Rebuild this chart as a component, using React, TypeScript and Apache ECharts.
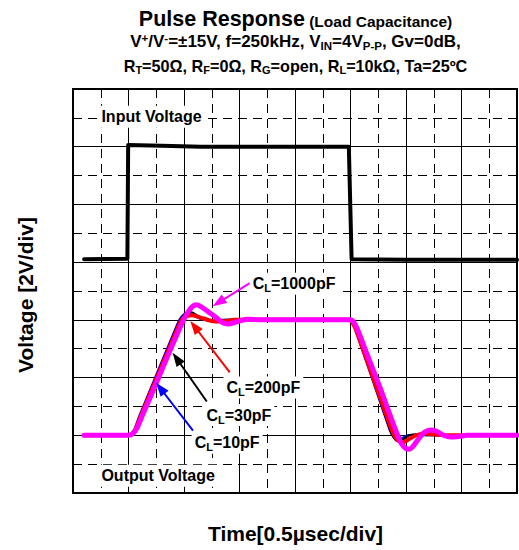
import React, { useEffect, useRef } from "react";
import * as echarts from "echarts";

// Time axis in µs (0.5 µs/div), voltage axis in V (2 V/div)
const timeMin = 0;
const timeMax = 4;
const timeStep = 0.5;
const voltMin = 0;
const voltMax = 14;
const voltStep = 2;

const titleMain = "Pulse Response";
const titleSub = " (Load Capacitance)";
const xTitle = "Time[0.5µsec/div]";
const yTitle = "Voltage [2V/div]";

const inputVoltage: [number, number][] = [
  [0.1, 8.1], [0.49, 8.12], [0.497, 12.06], [0.8, 12.03], [1.15, 12.0],
  [2.485, 12.0], [2.51, 8.1], [3.0, 8.08], [4.0, 8.08],
];

const outCL10: [number, number][] = [
  [0.1, 2.0], [0.5, 2.0], [0.53, 2.06], [0.555, 2.22], [0.59, 2.6], [0.94, 5.86],
  [0.975, 6.1], [1.015, 6.2], [1.055, 6.2], [1.11, 6.1], [1.175, 6.0], [1.25, 5.98],
  [1.35, 6.0], [2.5, 6.0], [2.515, 5.9], [2.54, 5.7], [2.85, 2.2], [2.885, 1.94],
  [2.92, 1.84], [2.955, 1.88], [3.015, 2.0], [3.1, 2.02], [3.2, 2.0], [4.0, 2.0],
];

const outCL30: [number, number][] = [
  [0.1, 2.0], [0.5, 2.0], [0.53, 2.06], [0.56, 2.22], [0.595, 2.6], [0.945, 5.84],
  [0.98, 6.1], [1.02, 6.24], [1.065, 6.26], [1.125, 6.14], [1.2, 6.0], [1.275, 5.96],
  [1.375, 6.0], [2.5, 6.0], [2.515, 5.9], [2.545, 5.7], [2.855, 2.2], [2.89, 1.92],
  [2.925, 1.8], [2.965, 1.84], [3.03, 2.0], [3.1, 2.04], [3.2, 2.0], [4.0, 2.0],
];

const outCL200: [number, number][] = [
  [0.1, 2.0], [0.5, 2.0], [0.533, 2.06], [0.563, 2.22], [0.603, 2.6], [0.953, 5.8],
  [0.988, 6.04], [1.028, 6.14], [1.075, 6.16], [1.15, 6.08], [1.25, 5.96], [1.35, 5.94],
  [1.45, 6.0], [2.5, 6.0], [2.515, 5.92], [2.545, 5.7], [2.86, 2.3], [2.9, 1.96],
  [2.935, 1.8], [2.975, 1.76], [3.025, 1.86], [3.09, 2.0], [3.175, 2.06], [3.275, 2.02],
  [3.4, 2.0], [4.0, 2.0],
];

const outCL1000: [number, number][] = [
  [0.1, 2.0], [0.5, 2.0], [0.54, 2.06], [0.575, 2.24], [0.62, 2.64], [0.745, 3.76],
  [0.87, 4.9], [0.972, 5.8], [1.025, 6.2], [1.07, 6.44], [1.11, 6.52], [1.16, 6.44],
  [1.225, 6.26], [1.29, 6.08], [1.35, 5.9], [1.395, 5.86], [1.45, 5.9], [1.5, 5.96],
  [1.575, 6.02], [1.7, 6.0], [2.5, 6.0], [2.525, 5.94], [2.56, 5.7], [2.65, 4.8],
  [2.775, 3.56], [2.875, 2.5], [2.925, 2.0], [2.96, 1.7], [3.0, 1.54], [3.03, 1.52],
  [3.06, 1.6], [3.11, 1.86], [3.165, 2.1], [3.225, 2.18], [3.275, 2.14], [3.34, 2.0],
  [3.4, 1.94], [3.475, 1.96], [3.55, 2.0], [4.0, 2.0],
];

const FONT = "'Liberation Sans', Arial, Helvetica, sans-serif";

const tok = (size: number, lh: number, pad?: number[]) => ({
  fontFamily: FONT,
  fontWeight: "bold",
  fontSize: size,
  lineHeight: lh,
  fill: "#000",
  ...(pad ? { padding: pad } : {}),
});

const richSmall = {
  n: tok(16, 20),
  sb: tok(11, 11, [9, 0, 0, 0]),
  sp: tok(11, 11, [0, 0, 9, 0]),
};

export default function App() {
  const ref = useRef<HTMLDivElement>(null);

  useEffect(() => {
    const chart = echarts.init(ref.current as HTMLDivElement, null, { renderer: "svg" });

    const arrow = (color: string, tail: number[], tip: number[]) => ({
      silent: true,
      animation: false,
      symbol: ["none", "triangle"],
      symbolSize: [10, 14],
      label: { show: false },
      emphasis: { disabled: true },
      lineStyle: { color, width: 2, type: "solid" },
      data: [[{ coord: tail }, { coord: tip }]],
    });

    const lineSeries = (name: string, data: [number, number][], color: string, width: number, smooth: number, markLine?: any) => ({
      type: "line",
      name,
      data,
      showSymbol: false,
      symbol: "none",
      smooth,
      animation: false,
      silent: true,
      lineStyle: { color, width, cap: "round", join: "round" },
      itemStyle: { color },
      ...(markLine ? { markLine } : {}),
    });

    const option: any = {
      animation: false,
      grid: {
        left: 73,
        top: 89,
        width: 444,
        height: 404,
        show: true,
        borderColor: "#000",
        borderWidth: 2,
        backgroundColor: "#fff",
      },
      xAxis: {
        type: "value",
        min: timeMin,
        max: timeMax,
        interval: timeStep,
        axisLine: { show: false },
        axisTick: { show: false },
        axisLabel: { show: false },
        splitLine: { show: true, lineStyle: { color: "#000", width: 1 } },
        minorTick: { show: false, splitNumber: 2 },
        minorSplitLine: { show: true, lineStyle: { color: "#000", width: 1, type: [9, 6] } },
      },
      yAxis: {
        type: "value",
        min: voltMin,
        max: voltMax,
        interval: voltStep,
        axisLine: { show: false },
        axisTick: { show: false },
        axisLabel: { show: false },
        splitLine: { show: true, lineStyle: { color: "#000", width: 1 } },
        minorTick: { show: false, splitNumber: 2 },
        minorSplitLine: { show: true, lineStyle: { color: "#000", width: 1, type: [9, 6] } },
      },
      series: [
        lineSeries("Input Voltage", inputVoltage, "#000", 4, 0),
        lineSeries("CL=10pF", outCL10, "#0000ff", 2, 0.25, arrow("#0000ff", [1.081, 2.16], [0.787, 3.63])),
        lineSeries("CL=30pF", outCL30, "#000", 2, 0.25, arrow("#000", [1.205, 3.17], [0.934, 4.66])),
        lineSeries("CL=200pF", outCL200, "#ff0000", 4, 0.25, arrow("#ff0000", [1.412, 4.18], [1.095, 5.77])),
        lineSeries("CL=1000pF", outCL1000, "#ff00ff", 5, 0.25, arrow("#ff00ff", [1.592, 7.27], [1.311, 6.6])),
      ],
    };

    chart.setOption(option);

    const px = (p: number[]) => chart.convertToPixel({ gridIndex: 0 }, p) as number[];

    const labels = [
      { at: [0.256, 13.04], text: "{n|Input Voltage}" },
      { at: [0.256, 0.6], text: "{n|Output Voltage}" },
      { at: [1.619, 7.25], text: "{n|C}{sb|L}{n|=1000pF}" },
      { at: [1.382, 3.66], text: "{n|C}{sb|L}{n|=200pF}" },
      { at: [1.202, 2.7], text: "{n|C}{sb|L}{n|=30pF}" },
      { at: [1.096, 1.74], text: "{n|C}{sb|L}{n|=10pF}" },
    ];

    const labelEls = labels.map((l) => {
      const [x, y] = px(l.at);
      return {
        type: "text",
        x: x - 3,
        y,
        z: 100,
        silent: true,
        style: {
          text: l.text,
          rich: richSmall,
          align: "left",
          verticalAlign: "middle",
          backgroundColor: "#fff",
          padding: [1, 3, 1, 3],
        },
      };
    });

    const cx = 295.5;
    const titleEls = [
      {
        type: "text",
        x: cx,
        y: 19.1,
        silent: true,
        style: {
          text: `{a|${titleMain}}{b|${titleSub}}`,
          align: "center",
          verticalAlign: "middle",
          rich: {
            a: tok(21.5, 24),
            b: tok(15.5, 15.5, [3.8, 0, 0, 0]),
          },
        },
      },
      {
        type: "text",
        x: cx,
        y: 41.9,
        silent: true,
        style: {
          text: "{n|V}{sp|+}{n|/V}{sp|-}{n|=±15V, f=250kHz, V}{sb|IN}{n|=4V}{sb|P-P}{n|, Gv=0dB,}",
          align: "center",
          verticalAlign: "middle",
          rich: {
            n: tok(17, 20),
            sb: tok(11.5, 11.5, [8.5, 0, 0, 0]),
            sp: tok(11.5, 11.5, [0, 0, 8.5, 0]),
          },
        },
      },
      {
        type: "text",
        x: cx,
        y: 65.9,
        silent: true,
        style: {
          text: "{n|R}{sb|T}{n|=50Ω, R}{sb|F}{n|=0Ω, R}{sb|G}{n|=open, R}{sb|L}{n|=10kΩ, Ta=25ºC}",
          align: "center",
          verticalAlign: "middle",
          rich: {
            n: tok(16.2, 20),
            sb: tok(11, 11, [9, 0, 0, 0]),
          },
        },
      },
      {
        type: "text",
        x: 295.5,
        y: 533,
        silent: true,
        style: {
          text: xTitle,
          align: "center",
          verticalAlign: "middle",
          fontFamily: FONT,
          fontWeight: "bold",
          fontSize: 21,
          fill: "#000",
        },
      },
      {
        type: "text",
        x: 25.8,
        y: 295,
        rotation: Math.PI / 2,
        silent: true,
        style: {
          text: yTitle,
          align: "center",
          verticalAlign: "middle",
          fontFamily: FONT,
          fontWeight: "bold",
          fontSize: 21,
          fill: "#000",
        },
      },
    ];

    chart.setOption({ graphic: [...titleEls, ...labelEls] });

    return () => {
      chart.dispose();
    };
  }, []);

  return (
    <div
      ref={ref}
      style={{ position: "fixed", left: 0, top: 0, width: 519, height: 550, background: "#fff" }}
    />
  );
}
